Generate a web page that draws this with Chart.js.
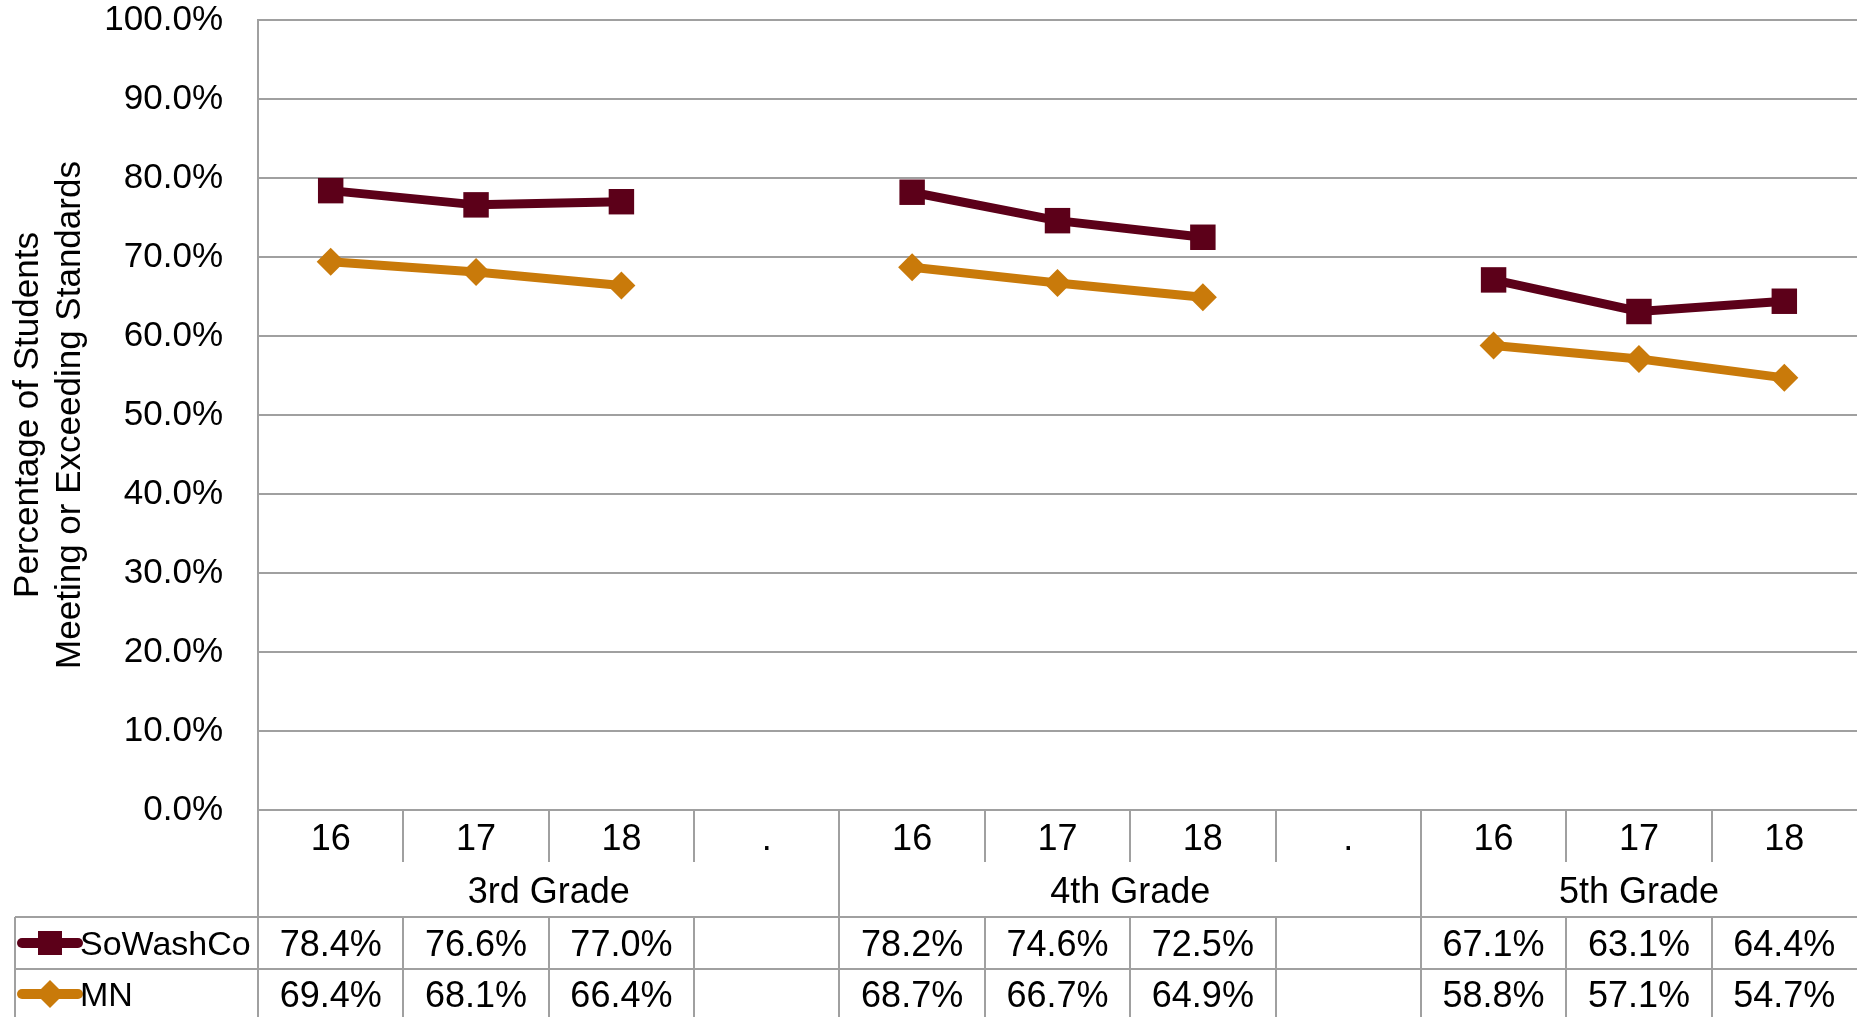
<!DOCTYPE html>
<html><head><meta charset="utf-8">
<script src="https://cdn.jsdelivr.net/npm/chart.js@4.4.0/dist/chart.umd.min.js"></script>
<style>html,body{margin:0;padding:0;background:#fff;overflow:hidden}canvas{display:block}</style>
</head><body>
<canvas id="c" width="1857" height="1017"></canvas>
<script>
// ---- data ----
const categories = ['16','17','18','.','16','17','18','.','16','17','18'];
const groupLabels = ['3rd Grade','4th Grade','5th Grade'];
const groupStarts = [0, 4, 8];
const groupEnds = [3, 7, 10];
const seriesNames = ['SoWashCo', 'MN'];
const soWashCo = [78.4, 76.6, 77.0, null, 78.2, 74.6, 72.5, null, 67.1, 63.1, 64.4];
const mn = [69.4, 68.1, 66.4, null, 68.7, 66.7, 64.9, null, 58.8, 57.1, 54.7];
const yTitle = ['Percentage of Students', 'Meeting or Exceeding Standards'];

const COL_SW = '#5c0019';
const COL_MN = '#c97a0a';
const GRID = '#a0a0a0';
const FONT = "'Liberation Sans', Arial, sans-serif";

const seriesValues = [soWashCo, mn];
const seriesColors = [COL_SW, COL_MN];
const seriesStyles = ['rect', 'rectRot'];

const tablePlugin = {
  id: 'dataTable',
  afterDraw(chart) {
    const ctx = chart.ctx;
    const xs = chart.scales.x;
    const area = chart.chartArea;
    const n = categories.length;
    const colW = xs.getPixelForValue(1) - xs.getPixelForValue(0);
    const edge = i => xs.getPixelForValue(i) - colW / 2;
    const yAxis = area.bottom;
    const yTickBot = yAxis + 52;
    const yRow1 = yAxis + 107;
    const yRow2 = yRow1 + 52;
    const yBot = chart.height;
    const tableLeft = 15;

    ctx.save();
    ctx.strokeStyle = GRID;
    ctx.lineWidth = 2;
    const line = (x1, y1, x2, y2) => { ctx.beginPath(); ctx.moveTo(x1, y1); ctx.lineTo(x2, y2); ctx.stroke(); };
    for (let i = 0; i < n; i++) {
      const px = Math.round(edge(i));
      if (i === 0 || groupStarts.includes(i)) {
        line(px, yAxis, px, yBot);
      } else {
        line(px, yAxis, px, yTickBot);
        line(px, yRow1, px, yBot);
      }
    }
    line(tableLeft, yRow1, chart.width, yRow1);
    line(tableLeft, yRow2, chart.width, yRow2);
    line(tableLeft, yRow1, tableLeft, yBot);

    // group labels
    ctx.fillStyle = '#000';
    ctx.font = '36px ' + FONT;
    ctx.textAlign = 'center';
    ctx.textBaseline = 'middle';
    groupLabels.forEach((g, k) => {
      const cx = (edge(groupStarts[k]) + edge(groupEnds[k] + 1)) / 2;
      ctx.fillText(g, cx, (yTickBot + yRow1) / 2 + 4);
    });

    // data rows
    seriesValues.forEach((vals, r) => {
      const cy = (r === 0 ? (yRow1 + yRow2) / 2 : yRow2 + 25) + 3;
      ctx.font = '36px ' + FONT;
      vals.forEach((v, i) => {
        if (v === null) return;
        ctx.textAlign = 'center';
        ctx.fillText(v.toFixed(1) + '%', xs.getPixelForValue(i), cy);
      });
      // legend key
      const ky = cy - 3;
      ctx.strokeStyle = seriesColors[r];
      ctx.lineWidth = 10;
      ctx.lineCap = 'round';
      line(22, ky, 78, ky);
      ctx.fillStyle = seriesColors[r];
      ctx.beginPath();
      if (seriesStyles[r] === 'rect') {
        ctx.rect(38, ky - 12, 24, 24);
      } else {
        ctx.moveTo(50, ky - 14); ctx.lineTo(64, ky); ctx.lineTo(50, ky + 14); ctx.lineTo(36, ky); ctx.closePath();
      }
      ctx.fill();
      ctx.fillStyle = '#000';
      ctx.textAlign = 'left';
      ctx.font = '34px ' + FONT;
      ctx.fillText(seriesNames[r], 80, cy);
      ctx.strokeStyle = GRID;
      ctx.lineWidth = 2;
      ctx.lineCap = 'butt';
    });
    ctx.restore();
  }
};

Chart.defaults.color = '#000';
Chart.defaults.font.family = FONT;

new Chart(document.getElementById('c'), {
  type: 'line',
  data: {
    labels: categories,
    datasets: [
      { label: seriesNames[0], data: soWashCo, borderColor: COL_SW, backgroundColor: COL_SW,
        borderWidth: 9, pointStyle: 'rect', pointRadius: 18, pointHoverRadius: 18, pointBorderWidth: 0, spanGaps: false },
      { label: seriesNames[1], data: mn, borderColor: COL_MN, backgroundColor: COL_MN,
        borderWidth: 9, pointStyle: 'rectRot', pointRadius: 14, pointHoverRadius: 14, pointBorderWidth: 0, spanGaps: false }
    ]
  },
  options: {
    responsive: false,
    animation: false,
    devicePixelRatio: 1,
    layout: { autoPadding: false, padding: { top: 20, right: 0, bottom: 0, left: 0 } },
    plugins: { legend: { display: false }, tooltip: { enabled: false } },
    scales: {
      x: {
        offset: true,
        grid: { display: false, drawTicks: false },
        border: { display: true, color: GRID, width: 2 },
        ticks: { font: { size: 36 }, padding: 8, maxRotation: 0, autoSkip: false },
        afterFit(s) { s.height = 207; s.paddingLeft = 0; s.paddingRight = 0; }
      },
      y: {
        min: 0, max: 100,
        grid: { color: GRID, lineWidth: 2, drawTicks: false },
        border: { display: true, color: GRID, width: 2 },
        ticks: { stepSize: 10, font: { size: 35 }, padding: 35, callback: v => v.toFixed(1) + '%' },
        title: { display: true, text: yTitle, font: { size: 35, lineHeight: 1.2 }, padding: { top: 7, bottom: 0 } },
        afterFit(s) { s.width = 258; s.paddingTop = 0; s.paddingBottom = 0; }
      }
    }
  },
  plugins: [tablePlugin]
});
</script>
</body></html>
